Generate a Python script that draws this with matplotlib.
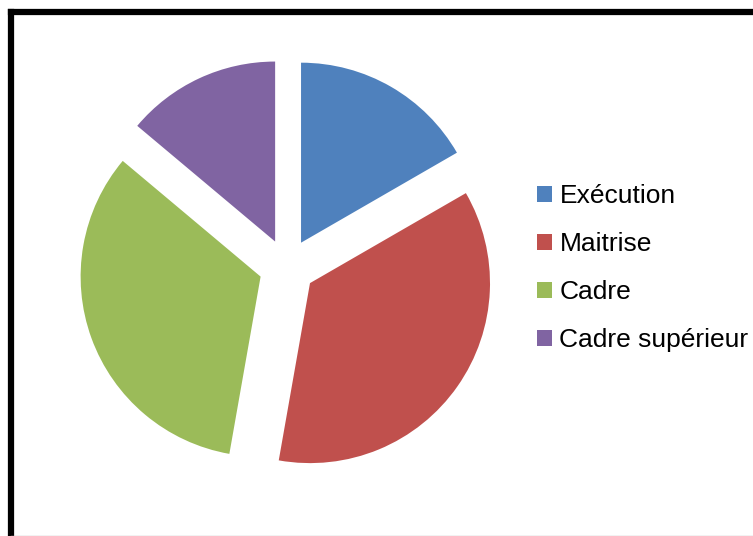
import matplotlib.pyplot as plt
from matplotlib.lines import Line2D

labels = ["Exécution", "Maitrise", "Cadre", "Cadre supérieur"]
values = [12, 26, 24, 10]
colors = ["#4F81BD", "#C0504D", "#9BBB59", "#8064A2"]

plt.rcParams['font.family'] = ['Liberation Sans', 'DejaVu Sans']

W, H = 753, 536
fig = plt.figure(figsize=(W / 100, H / 100), dpi=100)

# pie centre ~ (287, 267) px, radius ~ 180 px
r_px = 180
lim = 1.3
side = 2 * lim * r_px
cx, cy = 287, H - 267
ax = fig.add_axes([(cx - side / 2) / W, (cy - side / 2) / H, side / W, side / H])
wedges, _ = ax.pie(values, colors=colors, startangle=90, counterclock=False,
                   explode=[0.156] * 4, radius=1.0,
                   wedgeprops=dict(linewidth=0))
ax.set_xlim(-lim, lim)
ax.set_ylim(-lim, lim)
ax.set_aspect('equal')
ax.axis('off')

fig.legend(wedges, labels, loc='upper left', bbox_to_anchor=(537 / W, 1 - 184 / H),
           frameon=False, fontsize=19, handlelength=0.55, handleheight=0.55,
           handletextpad=0.3, labelspacing=0.91, borderpad=0, borderaxespad=0)

# chart area border
fig.add_artist(Line2D([11 / W, 11 / W], [0, 1 - 12 / H], transform=fig.transFigure,
                      color='black', lw=4.5, solid_capstyle='projecting'))
fig.add_artist(Line2D([11 / W, 1], [1 - 12 / H, 1 - 12 / H], transform=fig.transFigure,
                      color='black', lw=4.5, solid_capstyle='projecting'))
fig.add_artist(Line2D([11 / W, 1], [0.5 / H, 0.5 / H], transform=fig.transFigure,
                      color='#BFBFBF', lw=1))

fig.savefig('out.png', dpi=100)
